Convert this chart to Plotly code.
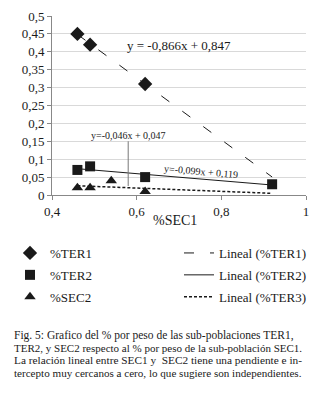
import plotly.graph_objects as go

# ---- data ----
x_ter1 = [0.46, 0.49, 0.62]
y_ter1 = [0.45, 0.42, 0.31]
x_ter2 = [0.46, 0.49, 0.62, 0.92]
y_ter2 = [0.07, 0.08, 0.05, 0.03]
x_sec2 = [0.46, 0.49, 0.54, 0.62]
y_sec2 = [0.02, 0.02, 0.04, 0.01]

trend_x = [0.46, 0.92]
slope_ter1, icpt_ter1 = -0.866, 0.847
slope_ter2, icpt_ter2 = -0.099, 0.119
slope_sec2, icpt_sec2 = -0.046, 0.047

x_ticks = [0.4, 0.6, 0.8, 1.0]
x_ticktext = ["0,4", "0,6", "0,8", "1"]
y_ticks = [0, 0.05, 0.1, 0.15, 0.2, 0.25, 0.3, 0.35, 0.4, 0.45, 0.5]
y_ticktext = ["0", "0,05", "0,1", "0,15", "0,2", "0,25", "0,3", "0,35", "0,4", "0,45", "0,5"]

caption_lines = [
    "Fig. 5: Grafico del % por peso de las sub-poblaciones TER1,",
    "TER2, y SEC2 respecto al % por peso de la sub-población SEC1.",
    "La relación lineal entre SEC1 y  SEC2 tiene una pendiente e in-",
    "tercepto muy cercanos a cero, lo que sugiere son independientes.",
]

FONT = "Liberation Serif"
INK = "#1a1a1a"

# plot-area geometry (pixels)
L, R, T, B = 52, 306, 16, 195
W, H = 325, 393

def px(x):
    return (x - L) / (R - L)

def py(y):
    return (B - y) / (B - T)

def line(slope, icpt):
    return [slope * v + icpt for v in trend_x]

fig = go.Figure()

fig.add_trace(go.Scatter(x=trend_x, y=line(slope_ter1, icpt_ter1), mode="lines",
                         name="Lineal (%TER1)",
                         line=dict(color=INK, width=1, dash="10px,16px"),
                         legend="legend2", legendgroup="d"))
fig.add_trace(go.Scatter(x=trend_x, y=line(slope_ter2, icpt_ter2), mode="lines",
                         name="Lineal (%TER2)",
                         line=dict(color=INK, width=1),
                         legend="legend2", legendgroup="e"))
fig.add_trace(go.Scatter(x=trend_x, y=line(slope_sec2, icpt_sec2), mode="lines",
                         name="Lineal (%TER3)",
                         line=dict(color=INK, width=1.5, dash="3px,2px"),
                         legend="legend2", legendgroup="f"))

fig.add_trace(go.Scatter(x=x_ter1, y=y_ter1, mode="markers", name="%TER1",
                         marker=dict(symbol="diamond", size=11, color=INK),
                         legend="legend", legendgroup="a"))
fig.add_trace(go.Scatter(x=x_ter2, y=y_ter2, mode="markers", name="%TER2",
                         marker=dict(symbol="square", size=10, color=INK),
                         legend="legend", legendgroup="b"))
fig.add_trace(go.Scatter(x=x_sec2, y=y_sec2, mode="markers", name="%SEC2",
                         marker=dict(symbol="triangle-up", size=10, color=INK),
                         legend="legend", legendgroup="c"))

fig.add_shape(type="line", x0=0.58, x1=0.58, y0=0.15, y1=0.025,
              line=dict(color="#777777", width=1))

fig.add_annotation(x=0.699, y=0.418, text="y = -0,866x + 0,847", showarrow=False,
                   font=dict(family=FONT, size=13, color=INK))
fig.add_annotation(x=0.581, y=0.167, text="y=-0,046x + 0,047", showarrow=False,
                   font=dict(family=FONT, size=10, color=INK))
fig.add_annotation(x=0.753, y=0.066, text="y=-0,099x + 0,119", showarrow=False,
                   textangle=5, font=dict(family=FONT, size=10, color=INK))

fig.add_annotation(xref="paper", yref="paper", x=px(175), y=py(230), text="%SEC1",
                   showarrow=False, font=dict(family=FONT, size=14, color=INK))

cap_y = [335, 348, 360, 373]
cap_size = [11.5, 11.0, 11.3, 11.1]
for txt, cy, fs in zip(caption_lines, cap_y, cap_size):
    fig.add_annotation(xref="paper", yref="paper", x=px(12),
                       y=py(cy), xanchor="left", yanchor="middle",
                       text=txt, showarrow=False,
                       font=dict(family=FONT, size=fs, color=INK))

fig.update_layout(
    width=W, height=H,
    margin=dict(l=L, r=W - R, t=T, b=H - B, autoexpand=False),
    paper_bgcolor="white", plot_bgcolor="white",
    font=dict(family=FONT, size=13, color=INK),
    showlegend=True,
    legend=dict(x=px(10), y=py(238), xanchor="left", yanchor="top",
                font=dict(family=FONT, size=13, color=INK), tracegroupgap=2,
                bgcolor="rgba(0,0,0,0)"),
    legend2=dict(x=px(179), y=py(238), xanchor="left", yanchor="top",
                 font=dict(family=FONT, size=13, color=INK), tracegroupgap=2,
                 bgcolor="rgba(0,0,0,0)"),
)

fig.update_xaxes(range=[0.4, 1.0], tickvals=x_ticks, ticktext=x_ticktext,
                 showgrid=False, zeroline=False, showline=True, linecolor="#888888",
                 ticks="outside", ticklen=4, tickcolor="#888888", automargin=False,
                 tickfont=dict(family=FONT, size=13, color=INK))
fig.update_yaxes(range=[0, 0.5], tickvals=y_ticks, ticktext=y_ticktext,
                 showgrid=True, gridcolor="#d9d9d9", zeroline=False,
                 showline=True, linecolor="#888888", automargin=False,
                 ticks="outside", ticklen=4, tickcolor="#888888",
                 tickfont=dict(family=FONT, size=13, color=INK))

fig.write_html("out.html", config={"displayModeBar": False},
               post_script="document.body.style.margin='0';")
